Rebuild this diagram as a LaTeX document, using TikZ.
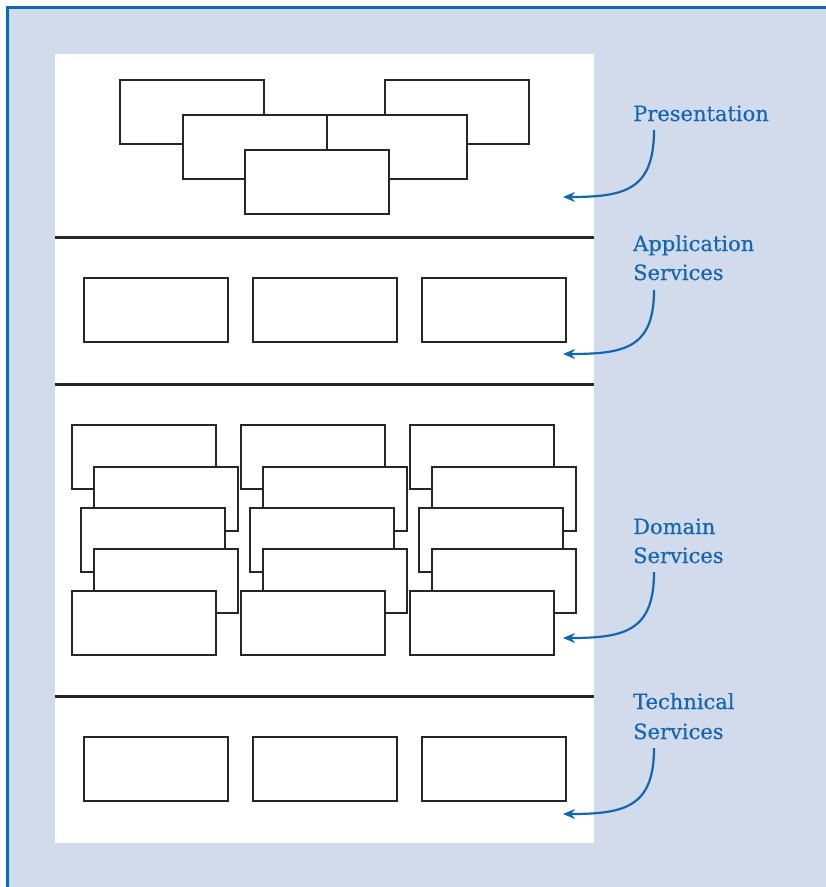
\documentclass[tikz,border=0pt]{standalone}
\usepackage{fontspec}
\setmainfont[FakeBold=0.4]{DejaVu Serif}
\usetikzlibrary{arrows.meta}
\definecolor{bgblue}{HTML}{D2DBEC}
\definecolor{lineblue}{HTML}{1466B0}
\definecolor{boxline}{HTML}{262626}
\begin{document}
\begin{tikzpicture}[x=1pt,y=-1pt,
  box/.style={draw=boxline,fill=white,line width=1.5pt,minimum width=144pt,minimum height=64pt,anchor=north west,inner sep=0pt,outer sep=0pt},
  divider/.style={draw=boxline,line width=3pt},
  lbl/.style={text=lineblue,font=\fontsize{21}{25}\selectfont,anchor=base west,inner sep=0pt},
  arr/.style={draw=lineblue,line width=2.2pt,-{Stealth[length=12pt,width=10pt,inset=4pt]}}]
\useasboundingbox (0,0) rectangle (826,887);
\fill[bgblue] (7,7) rectangle (826,887);
\draw[lineblue,line width=3pt] (7,887) -- (7,7) -- (826,7);
\fill[white] (55,54) rectangle (594,843);
% dividers
\coordinate (d1l) at (55,237); \coordinate (d1r) at (594,237);
\coordinate (d2l) at (55,384); \coordinate (d2r) at (594,384);
\coordinate (d3l) at (55,696); \coordinate (d3r) at (594,696);
\draw[divider] (d1l) -- (d1r);
\draw[divider] (d2l) -- (d2r);
\draw[divider] (d3l) -- (d3r);
% presentation
\node[box] (p1) at (120,80) {};
\node[box] (p2) at (385,80) {};
\node[box,minimum width=140pt] (p4) at (327,115) {};
\node[box] (p3) at (183,115) {};
\node[box] (p5) at (245,150) {};
% application
\node[box] (a1) at (84,278) {};
\node[box] (a2) at (253,278) {};
\node[box] (a3) at (422,278) {};
% domain
\foreach \c/\dx in {1/0,2/169,3/338}{
  \node[box] (dA\c) at (72+\dx,425) {};
  \node[box] (dB\c) at (94+\dx,467) {};
  \node[box] (dC\c) at (81+\dx,508) {};
  \node[box] (dD\c) at (94+\dx,549) {};
  \node[box] (dE\c) at (72+\dx,591) {};
}
% technical
\node[box] (t1) at (84,737) {};
\node[box] (t2) at (253,737) {};
\node[box] (t3) at (422,737) {};
% labels
\node[lbl] (lp) at (633,121) {Presentation};
\node[lbl] (la1) at (633,251) {Application};
\node[lbl] (la2) at (633,280) {Services};
\node[lbl] (ld1) at (633,534) {Domain};
\node[lbl] (ld2) at (633,563) {Services};
\node[lbl] (lt1) at (633,709) {Technical};
\node[lbl] (lt2) at (633,739) {Services};
% arrows
\coordinate (s1) at (654,130); \coordinate (e1) at (563,197);
\coordinate (s2) at (654,290); \coordinate (e2) at (563,354);
\coordinate (s3) at (654,572); \coordinate (e3) at (563,638);
\coordinate (s4) at (654,748); \coordinate (e4) at (563,814);
\draw[arr] (s1) .. controls ++(0,60) and ++(62,0) .. (e1);
\draw[arr] (s2) .. controls ++(0,58) and ++(62,0) .. (e2);
\draw[arr] (s3) .. controls ++(0,59) and ++(62,0) .. (e3);
\draw[arr] (s4) .. controls ++(0,59) and ++(62,0) .. (e4);
\end{tikzpicture}
\end{document}
